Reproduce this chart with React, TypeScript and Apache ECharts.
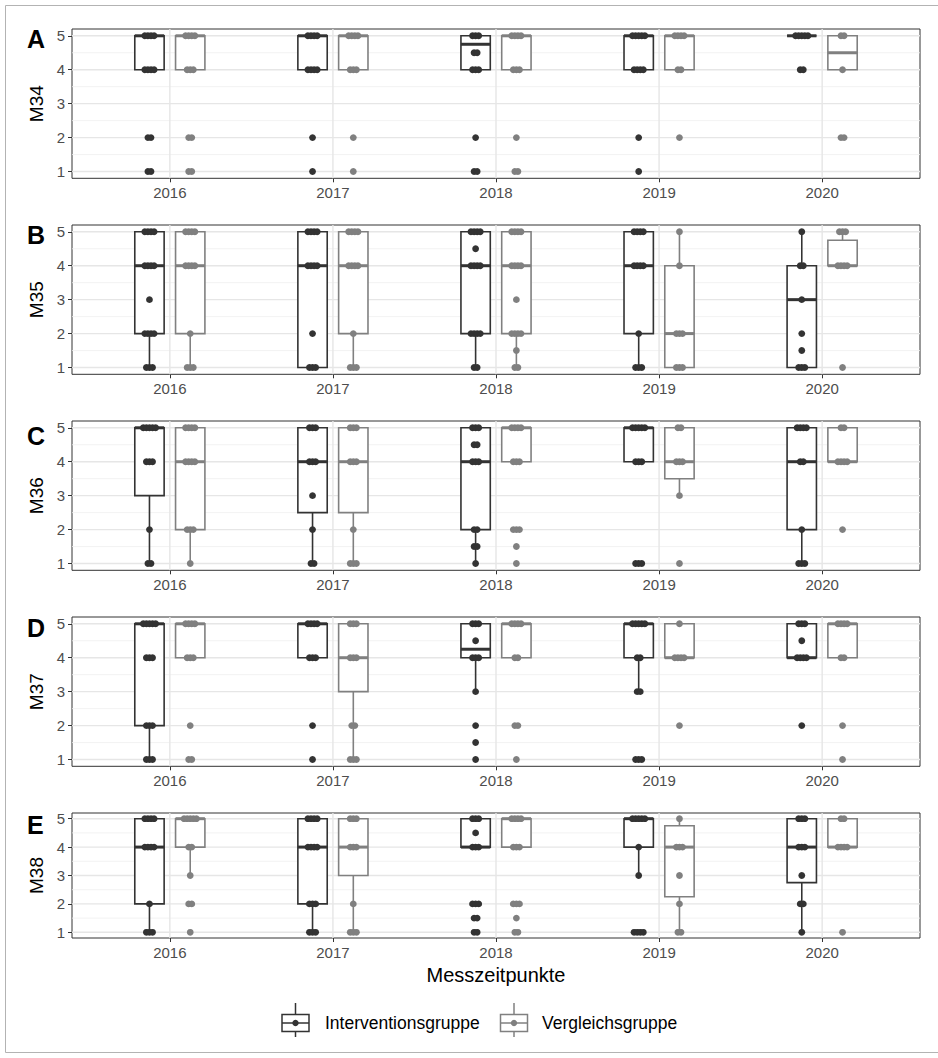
import React, { useEffect, useRef } from "react";
import * as echarts from "echarts";

// ---------------- data ----------------
const years = ["2016", "2017", "2018", "2019", "2020"];
const items = ["M34", "M35", "M36", "M37", "M38"];
const panelLetters = ["A", "B", "C", "D", "E"];
const groupNames = ["Interventionsgruppe", "Vergleichsgruppe"];
const yTicks = [1, 2, 3, 4, 5];
const yMinor = [1.5, 2.5, 3.5, 4.5];

// box statistics per year: [lower whisker, Q1, median, Q3, upper whisker]
const boxM34I = [[4, 4, 5, 5, 5], [4, 4, 5, 5, 5], [4, 4, 4.75, 5, 5], [4, 4, 5, 5, 5], [5, 5, 5, 5, 5]];
const boxM34V = [[4, 4, 5, 5, 5], [4, 4, 5, 5, 5], [4, 4, 5, 5, 5], [4, 4, 5, 5, 5], [4, 4, 4.5, 5, 5]];
const boxM35I = [[1, 2, 4, 5, 5], [1, 1, 4, 5, 5], [1, 2, 4, 5, 5], [1, 2, 4, 5, 5], [1, 1, 3, 4, 5]];
const boxM35V = [[1, 2, 4, 5, 5], [1, 2, 4, 5, 5], [1, 2, 4, 5, 5], [1, 1, 2, 4, 5], [4, 4, 4, 4.75, 5]];
const boxM36I = [[1, 3, 5, 5, 5], [1, 2.5, 4, 5, 5], [1, 2, 4, 5, 5], [4, 4, 5, 5, 5], [1, 2, 4, 5, 5]];
const boxM36V = [[1, 2, 4, 5, 5], [1, 2.5, 4, 5, 5], [4, 4, 5, 5, 5], [3, 3.5, 4, 5, 5], [4, 4, 4, 5, 5]];
const boxM37I = [[1, 2, 5, 5, 5], [4, 4, 5, 5, 5], [3, 4, 4.25, 5, 5], [3, 4, 5, 5, 5], [4, 4, 4, 5, 5]];
const boxM37V = [[4, 4, 5, 5, 5], [1, 3, 4, 5, 5], [4, 4, 5, 5, 5], [4, 4, 4, 5, 5], [4, 4, 5, 5, 5]];
const boxM38I = [[1, 2, 4, 5, 5], [1, 2, 4, 5, 5], [4, 4, 4, 5, 5], [3, 4, 5, 5, 5], [1, 2.75, 4, 5, 5]];
const boxM38V = [[3, 4, 5, 5, 5], [1, 3, 4, 5, 5], [4, 4, 5, 5, 5], [1, 2.25, 4, 4.75, 5], [4, 4, 4, 5, 5]];

// observed answers per year: [value, number of points]
const ptsM34I = [
  [[5, 4], [4, 4], [2, 2], [1, 2]],
  [[5, 4], [4, 4], [2, 1], [1, 1]],
  [[5, 3], [4.5, 2], [4, 3], [2, 1], [1, 2]],
  [[5, 5], [4, 4], [2, 1], [1, 1]],
  [[5, 5], [4, 2]],
];
const ptsM34V = [
  [[5, 4], [4, 3], [2, 2], [1, 2]],
  [[5, 4], [4, 3], [2, 1], [1, 1]],
  [[5, 4], [4, 3], [2, 1], [1, 2]],
  [[5, 4], [4, 2], [2, 1]],
  [[5, 2], [4, 1], [2, 2]],
];
const ptsM35I = [
  [[5, 4], [4, 4], [3, 1], [2, 4], [1, 3]],
  [[5, 4], [4, 4], [2, 1], [1, 3]],
  [[5, 4], [4.5, 1], [4, 4], [2, 4], [1, 2]],
  [[5, 4], [4, 4], [2, 1], [1, 3]],
  [[5, 1], [4, 2], [3, 1], [2, 1], [1.5, 1], [1, 3]],
];
const ptsM35V = [
  [[5, 4], [4, 4], [2, 1], [1, 3]],
  [[5, 4], [4, 4], [2, 1], [1, 3]],
  [[5, 4], [4, 4], [3, 1], [2, 4], [1.5, 1], [1, 2]],
  [[5, 1], [4, 1], [2, 3], [1, 3]],
  [[5, 3], [4, 4], [1, 1]],
];
const ptsM36I = [
  [[5, 5], [4, 3], [2, 1], [1, 2]],
  [[5, 3], [4, 3], [3, 1], [2, 1], [1, 2]],
  [[5, 3], [4.5, 2], [4, 3], [2, 2], [1.5, 2], [1, 1]],
  [[5, 5], [4, 3], [1, 3]],
  [[5, 4], [4, 2], [2, 1], [1, 3]],
];
const ptsM36V = [
  [[5, 4], [4, 4], [2, 3], [1, 1]],
  [[5, 3], [4, 3], [2, 1], [1, 3]],
  [[5, 4], [4, 3], [2, 3], [1.5, 1], [1, 1]],
  [[5, 2], [4, 3], [3, 1], [1, 1]],
  [[5, 2], [4, 4], [2, 1]],
];
const ptsM37I = [
  [[5, 5], [4, 3], [2, 3], [1, 3]],
  [[5, 4], [4, 3], [2, 1], [1, 1]],
  [[5, 3], [4.5, 1], [4, 3], [3, 1], [2, 1], [1.5, 1], [1, 1]],
  [[5, 5], [4, 2], [3, 2], [1, 3]],
  [[5, 3], [4.5, 1], [4, 4], [2, 1]],
];
const ptsM37V = [
  [[5, 4], [4, 3], [2, 1], [1, 2]],
  [[5, 3], [4, 3], [2, 2], [1, 3]],
  [[5, 4], [4, 2], [2, 2], [1, 1]],
  [[5, 1], [4, 4], [2, 1]],
  [[5, 4], [4, 2], [2, 1], [1, 1]],
];
const ptsM38I = [
  [[5, 4], [4, 4], [2, 1], [1, 3]],
  [[5, 4], [4, 4], [2, 3], [1, 3]],
  [[5, 3], [4.5, 1], [4, 3], [2, 3], [1.5, 2], [1, 2]],
  [[5, 5], [4, 1], [3, 1], [1, 4]],
  [[5, 3], [4, 3], [3, 1], [2, 2], [1, 1]],
];
const ptsM38V = [
  [[5, 5], [4, 2], [3, 1], [2, 2], [1, 1]],
  [[5, 3], [4, 3], [2, 1], [1, 3]],
  [[5, 4], [4, 3], [2, 3], [1.5, 1], [1, 2]],
  [[5, 1], [4, 3], [3, 1], [2, 1], [1, 2]],
  [[5, 2], [4, 4], [1, 1]],
];

const panelBoxes = [
  [boxM34I, boxM34V],
  [boxM35I, boxM35V],
  [boxM36I, boxM36V],
  [boxM37I, boxM37V],
  [boxM38I, boxM38V],
];
const panelPoints = [
  [ptsM34I, ptsM34V],
  [ptsM35I, ptsM35V],
  [ptsM36I, ptsM36V],
  [ptsM37I, ptsM37V],
  [ptsM38I, ptsM38V],
];

// ---------------- style / layout ----------------
const groupColors = ["#333333", "#808080"];
const dodge = [-0.125, 0.125];
const BOX_W = 0.18;
const JITTER_STEP = 0.019;
const FONT = "'Liberation Sans', Arial, Helvetica, sans-serif";
const GRID_LEFT = 72;
const GRID_RIGHT = 18;
const gridTops = [29, 225, 421, 617, 813];
const gridHeights = [149.3, 149.3, 149.3, 149.3, 125];
const letterY = [38.5, 235, 436, 627.5, 825];

function buildOption() {
  const grid: any[] = [];
  const xAxis: any[] = [];
  const yAxis: any[] = [];
  const series: any[] = [];
  const graphic: any[] = [];
  const catVals = years.map((_, k) => k + 1);

  items.forEach((item, i) => {
    grid.push({
      left: GRID_LEFT,
      right: GRID_RIGHT,
      top: gridTops[i],
      height: gridHeights[i],
      show: true,
      borderColor: "#333333",
      borderWidth: 1,
      backgroundColor: "transparent",
      containLabel: false,
    });
    xAxis.push({
      type: "value",
      gridIndex: i,
      min: 0.4,
      max: 5.6,
      axisLine: { show: false },
      axisTick: {
        show: true,
        customValues: catVals,
        length: 4,
        lineStyle: { color: "#333333", width: 1 },
      },
      axisLabel: {
        customValues: catVals,
        formatter: (v: number) => years[Math.round(v) - 1] ?? "",
        color: "#4d4d4d",
        fontSize: 15,
        fontFamily: FONT,
        margin: 7,
      },
      splitLine: { show: false },
    });
    yAxis.push({
      type: "value",
      gridIndex: i,
      min: 0.8,
      max: 5.2,
      axisLine: { show: false },
      axisTick: {
        show: true,
        customValues: yTicks,
        length: 4,
        lineStyle: { color: "#333333", width: 1 },
      },
      axisLabel: {
        customValues: yTicks,
        formatter: (v: number) => String(v),
        color: "#4d4d4d",
        fontSize: 15,
        fontFamily: FONT,
        margin: 7,
      },
      splitLine: { show: false },
    });

    // grid lines: [value, orientation (0 = horizontal, 1 = vertical), major]
    const gl: number[][] = [];
    yTicks.forEach((v) => gl.push([v, 0, 1]));
    yMinor.forEach((v) => gl.push([v, 0, 0]));
    catVals.forEach((v) => gl.push([v, 1, 1]));
    series.push({
      type: "custom",
      xAxisIndex: i,
      yAxisIndex: i,
      silent: true,
      z: 1,
      data: gl,
      renderItem: (params: any, api: any) => {
        const v = api.value(0);
        const o = api.value(1);
        const major = api.value(2);
        const cs = params.coordSys;
        const style = {
          stroke: major ? "#e6e6e6" : "#efefef",
          lineWidth: major ? 1.4 : 0.8,
        };
        if (o === 0) {
          const y = api.coord([1, v])[1];
          return { type: "line", shape: { x1: cs.x, y1: y, x2: cs.x + cs.width, y2: y }, style };
        }
        const x = api.coord([v, 3])[0];
        return { type: "line", shape: { x1: x, y1: cs.y, x2: x, y2: cs.y + cs.height }, style };
      },
    });

    [0, 1].forEach((g) => {
      const color = groupColors[g];
      const boxes = panelBoxes[i][g];
      series.push({
        type: "custom",
        name: groupNames[g],
        xAxisIndex: i,
        yAxisIndex: i,
        silent: true,
        z: 2,
        data: boxes.map((b, k) => [k + 1 + dodge[g], ...b]),
        renderItem: (params: any, api: any) => {
          const x = api.value(0);
          const lo = api.value(1);
          const q1 = api.value(2);
          const md = api.value(3);
          const q3 = api.value(4);
          const hi = api.value(5);
          const w = api.size([BOX_W, 0])[0];
          const cx = api.coord([x, md])[0];
          const yLo = api.coord([x, lo])[1];
          const yQ1 = api.coord([x, q1])[1];
          const yMd = api.coord([x, md])[1];
          const yQ3 = api.coord([x, q3])[1];
          const yHi = api.coord([x, hi])[1];
          const line = { stroke: color, lineWidth: 1.6 };
          const children: any[] = [];
          if (hi > q3)
            children.push({ type: "line", shape: { x1: cx, y1: yQ3, x2: cx, y2: yHi }, style: line });
          if (lo < q1)
            children.push({ type: "line", shape: { x1: cx, y1: yLo, x2: cx, y2: yQ1 }, style: line });
          children.push({
            type: "rect",
            shape: { x: cx - w / 2, y: yQ3, width: w, height: yQ1 - yQ3 },
            style: { fill: "#ffffff", stroke: color, lineWidth: 1.6 },
          });
          children.push({
            type: "line",
            shape: { x1: cx - w / 2, y1: yMd, x2: cx + w / 2, y2: yMd },
            style: { stroke: color, lineWidth: 3 },
          });
          return { type: "group", children };
        },
      });

      const pts: number[][] = [];
      panelPoints[i][g].forEach((list, k) => {
        list.forEach(([v, n]) => {
          for (let j = 0; j < n; j++) {
            pts.push([k + 1 + dodge[g] + (j - (n - 1) / 2) * JITTER_STEP, v]);
          }
        });
      });
      series.push({
        type: "scatter",
        name: groupNames[g],
        xAxisIndex: i,
        yAxisIndex: i,
        silent: true,
        z: 3,
        symbol: "circle",
        symbolSize: 6.8,
        itemStyle: { color, opacity: 1 },
        data: pts,
      });
    });

    // panel letter and y title
    graphic.push({
      type: "text",
      x: 27,
      y: letterY[i],
      style: {
        text: panelLetters[i],
        font: `bold 25px ${FONT}`,
        fill: "#000000",
        textAlign: "left",
        textVerticalAlign: "middle",
      },
    });
    graphic.push({
      type: "text",
      x: 36,
      y: gridTops[i] + gridHeights[i] / 2,
      rotation: Math.PI / 2,
      style: {
        text: item,
        font: `19px ${FONT}`,
        fill: "#000000",
        textAlign: "center",
        textVerticalAlign: "middle",
      },
    });
  });

  // x axis title
  graphic.push({
    type: "text",
    x: 496,
    y: 975,
    style: {
      text: "Messzeitpunkte",
      font: `20px ${FONT}`,
      fill: "#000000",
      textAlign: "center",
      textVerticalAlign: "middle",
    },
  });

  // legend
  const legendIconX = [295.5, 514];
  const legendTextX = [325, 542];
  const ly = 1023;
  [0, 1].forEach((g) => {
    const c = groupColors[g];
    const cx = legendIconX[g];
    graphic.push({
      type: "group",
      children: [
        { type: "line", shape: { x1: cx, y1: 1003, x2: cx, y2: 1037 }, style: { stroke: c, lineWidth: 1.5 } },
        {
          type: "rect",
          shape: { x: cx - 13.5, y: 1014.5, width: 27, height: 17 },
          style: { fill: "#ffffff", stroke: c, lineWidth: 1.5 },
        },
        { type: "line", shape: { x1: cx - 13.5, y1: ly, x2: cx + 13.5, y2: ly }, style: { stroke: c, lineWidth: 1.5 } },
        { type: "circle", shape: { cx, cy: ly, r: 3.2 }, style: { fill: c } },
      ],
    });
    graphic.push({
      type: "text",
      x: legendTextX[g],
      y: ly,
      style: {
        text: groupNames[g],
        font: `17.5px ${FONT}`,
        fill: "#000000",
        textAlign: "left",
        textVerticalAlign: "middle",
      },
    });
  });

  // outer frame
  graphic.push({
    type: "rect",
    z: -10,
    shape: { x: 5.5, y: 5.5, width: 940, height: 1047 },
    style: { fill: "none", stroke: "#b3b3b3", lineWidth: 1 },
  });

  return {
    animation: false,
    backgroundColor: "#ffffff",
    textStyle: { fontFamily: FONT },
    grid,
    xAxis,
    yAxis,
    series,
    graphic,
  };
}

export default function App() {
  const ref = useRef<HTMLDivElement>(null);
  useEffect(() => {
    if (!ref.current) return;
    const chart = echarts.init(ref.current, undefined, { renderer: "svg" });
    chart.setOption(buildOption() as any);
    return () => chart.dispose();
  }, []);
  return (
    <div
      ref={ref}
      style={{ position: "absolute", left: 0, top: 0, width: 938, height: 1058 }}
    />
  );
}
